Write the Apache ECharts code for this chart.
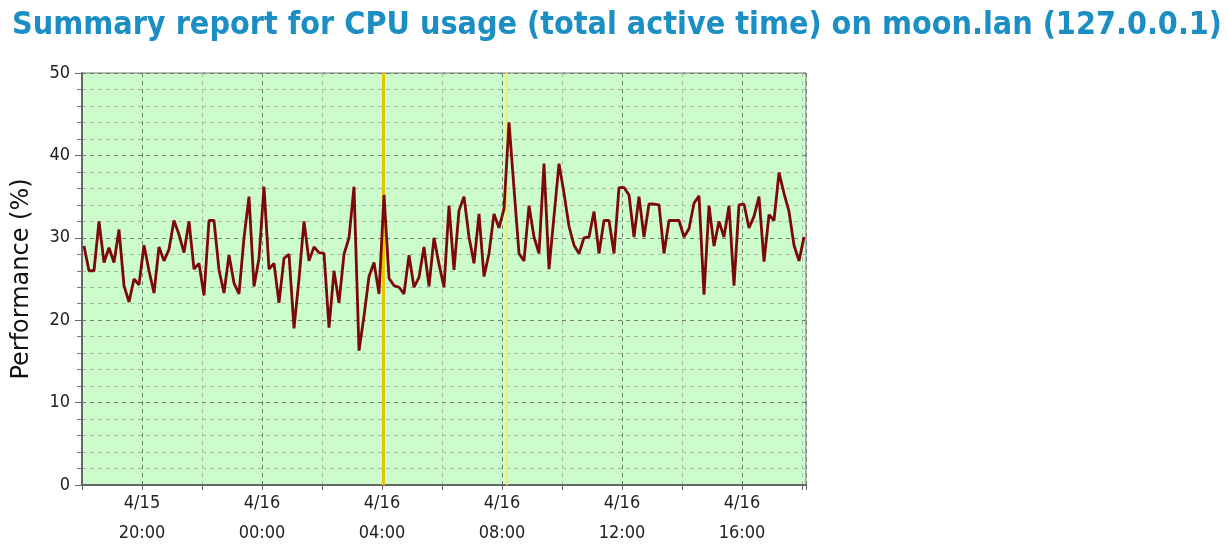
<!DOCTYPE html>
<html>
<head>
<meta charset="utf-8">
<script src="https://cdn.jsdelivr.net/npm/echarts@6/dist/echarts.min.js"></script>
<style>
html,body{margin:0;padding:0;background:#ffffff;}
#chart{width:1227px;height:551px;}
</style>
</head>
<body>
<div id="chart"></div>
<script>
// ---- data (minutes counted from 4/15 00:00) ----
const titleText = 'Summary report for CPU usage (total active time) on moon.lan (127.0.0.1)';
const yAxisName = 'Performance (%)';
const startMinute = 1084;      // 4/15 18:04
const stepMinutes = 10;        // one sample every 10 minutes
const axisMin = 1080;          // 4/15 18:00
const axisMax = 2528;          // 4/16 18:08
const cpuValues = [
  29, 26, 26, 32, 27, 28.8, 27, 31, 24.2, 22.2,
  25, 24.3, 29.1, 26, 23.3, 28.9, 27.2, 28.6, 32.1, 30.4,
  28.2, 32, 26.2, 26.9, 23, 32.1, 32.1, 26.1, 23.3, 27.9,
  24.5, 23.2, 30, 35, 24.1, 27.5, 36.2, 26.2, 26.9, 22.1,
  27.5, 28, 19, 25, 32, 27.2, 28.9, 28.2, 28.1, 19.1,
  26, 22.1, 28, 30, 36.2, 16.3, 20.5, 25.3, 27, 23.2,
  35.2, 25.1, 24.2, 24, 23.2, 27.9, 24, 25.2, 28.9, 24.1,
  30, 26.8, 24, 33.9, 26.1, 33.3, 35, 30.1, 26.9, 32.9,
  25.3, 28.1, 32.9, 31.2, 33.5, 44, 36, 28.1, 27.2, 33.9,
  30.1, 28.1, 39, 26.2, 32.6, 39, 35.4, 31.4, 29.1, 28.1,
  30, 30.1, 33.2, 28.1, 32.1, 32.1, 28.1, 36.1, 36.1, 35.2,
  30.1, 35, 30.1, 34.1, 34.1, 34, 28.1, 32.1, 32.1, 32.1,
  30.1, 31.1, 34.2, 35.1, 23.1, 33.9, 29, 32, 30.1, 33.9,
  24.2, 34, 34.1, 31.2, 32.6, 35, 27.1, 32.8, 32.1, 37.9,
  35.4, 33.2, 29.1, 27.2, 30.1
];
const markerMinutes = [1682, 1930];   // yellow event markers (~04:02, ~08:10 on 4/16)

const seriesData = cpuValues.map((v, i) => [startMinute + i * stepMinutes, v]);

function xLabel(v) {
  const m = Math.round(v);
  const day = 15 + Math.floor(m / 1440);
  const hh = Math.floor((m % 1440) / 60);
  const mm = m % 60;
  if (mm !== 0 || hh % 4 !== 0) return '';
  const p = n => (n < 10 ? '0' : '') + n;
  return '4/' + day + '\n' + p(hh) + ':' + p(mm);
}

const chart = echarts.init(document.getElementById('chart'), null, {renderer: 'canvas'});
const majorGrid = '#6f7d6f';
const minorGrid = '#a9b8a9';
chart.setOption({
  animation: false,
  backgroundColor: '#ffffff',
  title: {
    text: titleText,
    left: 7,
    top: 5,
    textStyle: {
      fontFamily: 'DejaVu Sans Condensed',
      fontWeight: 'bold',
      fontSize: 32,
      color: '#1b8ec4'
    }
  },
  grid: {
    left: 82, top: 73, width: 724, height: 412,
    outerBoundsMode: 'none',
    containLabel: false,
    show: true,
    backgroundColor: '#ccfbcc',
    borderColor: '#777777',
    borderWidth: 1
  },
  xAxis: {
    type: 'value',
    min: axisMin,
    max: axisMax,
    interval: 120,
    axisLine: {show: true, lineStyle: {color: '#666666', width: 2}},
    axisTick: {show: true, length: 5, lineStyle: {color: '#666666', width: 1}},
    axisLabel: {
      formatter: xLabel,
      color: '#222222',
      fontFamily: 'DejaVu Sans Condensed',
      fontSize: 18,
      lineHeight: 30,
      margin: 3,
      showMinLabel: true,
      showMaxLabel: true,
      hideOverlap: false
    },
    splitLine: {
      show: true,
      lineStyle: {color: [minorGrid, majorGrid], type: [4, 4], width: 1}
    }
  },
  yAxis: {
    type: 'value',
    min: 0,
    max: 50,
    interval: 10,
    name: yAxisName,
    nameLocation: 'middle',
    nameGap: 48,
    nameTextStyle: {
      fontFamily: 'DejaVu Sans',
      fontSize: 24,
      color: '#111111'
    },
    axisLine: {show: true, lineStyle: {color: '#666666', width: 2}},
    axisTick: {show: true, length: 7, lineStyle: {color: '#666666'}},
    minorTick: {show: true, splitNumber: 5, length: 5, lineStyle: {color: '#777777'}},
    axisLabel: {
      color: '#222222',
      fontFamily: 'DejaVu Sans Condensed',
      fontSize: 18,
      margin: 12
    },
    splitLine: {show: true, lineStyle: {color: majorGrid, type: [4, 4], width: 1}},
    minorSplitLine: {show: true, lineStyle: {color: minorGrid, type: [4, 4], width: 1}}
  },
  series: [{
    type: 'line',
    data: [],
    z: 2,
    markLine: {
      silent: true,
      symbol: 'none',
      z: 2,
      label: {show: false},
      data: [
        {xAxis: markerMinutes[0], lineStyle: {color: '#e8c400', width: 3, type: 'solid'}},
        {xAxis: markerMinutes[1], lineStyle: {color: '#eeee66', width: 2, type: 'solid'}}
      ]
    }
  }, {
    type: 'line',
    data: seriesData,
    showSymbol: false,
    symbol: 'none',
    lineStyle: {color: '#7c0808', width: 2.8},
    clip: true,
    z: 5
  }]
});
</script>
</body>
</html>
